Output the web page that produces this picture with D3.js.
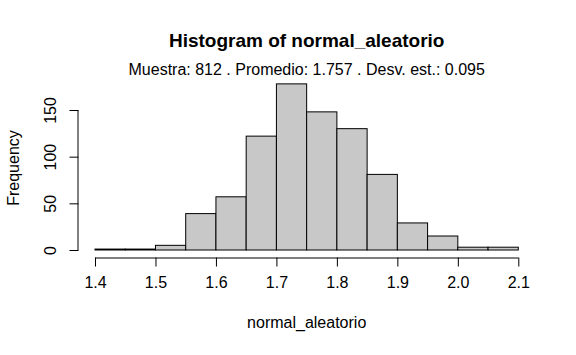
<!DOCTYPE html>
<html>
<head>
<meta charset="utf-8">
<script src="https://cdn.jsdelivr.net/npm/d3@7"></script>
<style>
  html, body { margin: 0; padding: 0; background: #fff; }
  svg { display: block; }
  text { font-family: "Liberation Sans", Arial, Helvetica, sans-serif; fill: #000; }
</style>
</head>
<body>
<svg id="chart" width="576" height="355"></svg>
<script>
// Bin edges (left edges), counts per bin
const binStarts = [1.40, 1.45, 1.50, 1.55, 1.60, 1.65, 1.70, 1.75, 1.80, 1.85, 1.90, 1.95, 2.00, 2.05];
const counts    = [1, 1, 5, 39, 57, 122, 178, 148, 130, 81, 29, 15, 3, 3];
const binWidth = 0.05;
const xTicks = [1.4, 1.5, 1.6, 1.7, 1.8, 1.9, 2.0, 2.1];
const yTicks = [0, 50, 100, 150];
const titleText = "Histogram of normal_aleatorio";
const subtitleText = "Muestra: 812 . Promedio: 1.757 . Desv. est.: 0.095";
const xLabel = "normal_aleatorio";
const yLabel = "Frequency";

const svg = d3.select("#chart");

const x = d3.scaleLinear().domain([1.4, 2.1]).range([95, 518.3]);
const y = d3.scaleLinear().domain([0, 150]).range([250, 110]);

const bins = binStarts.map((s, i) => ({ x0: s, x1: s + binWidth, n: counts[i] }));

// bars
svg.append("g").selectAll("rect").data(bins).join("rect")
  .attr("x", d => x(d.x0))
  .attr("y", d => y(d.n))
  .attr("width", d => x(d.x1) - x(d.x0))
  .attr("height", d => y(0) - y(d.n))
  .attr("fill", "#c8c8c8")
  .attr("stroke", "#000")
  .attr("stroke-width", 1);

// x axis
const xAxis = d3.axisBottom(x).tickValues(xTicks).tickFormat(d3.format(".1f")).tickSize(9).tickPadding(10);
const gx = svg.append("g").attr("transform", "translate(0,257.5)").call(xAxis);
gx.select(".domain").attr("d", `M${x(1.4)},0.5H${x(2.1)}`).attr("stroke", "#000");
gx.selectAll(".tick line").attr("stroke", "#000");
gx.selectAll("text").style("font-size", "16px").attr("fill", "#000");

// y axis
const yAxis = d3.axisLeft(y).tickValues(yTicks).tickSize(9).tickPadding(0);
const gy = svg.append("g").attr("transform", "translate(78.5,0)").call(yAxis);
gy.select(".domain").attr("d", `M-0.5,${y(0)}V${y(150)}`).attr("stroke", "#000");
gy.selectAll(".tick line").attr("stroke", "#000");
gy.selectAll("text")
  .style("font-size", "16px")
  .attr("fill", "#000")
  .attr("text-anchor", "middle")
  .attr("dy", null)
  .attr("x", null)
  .attr("transform", "translate(-28,0) rotate(-90)")
  .attr("dominant-baseline", "central");

// titles
svg.append("text").attr("x", 306.7).attr("y", 47)
  .attr("text-anchor", "middle").style("font-size", "19px").style("font-weight", "bold")
  .text(titleText);
svg.append("text").attr("x", 306.7).attr("y", 75)
  .attr("text-anchor", "middle").style("font-size", "16px")
  .text(subtitleText);

// axis labels
svg.append("text").attr("x", 306.7).attr("y", 328)
  .attr("text-anchor", "middle").style("font-size", "16px")
  .text(xLabel);
svg.append("text").attr("transform", "translate(19,168) rotate(-90)")
  .attr("text-anchor", "middle").style("font-size", "16px")
  .text(yLabel);
</script>
</body>
</html>
